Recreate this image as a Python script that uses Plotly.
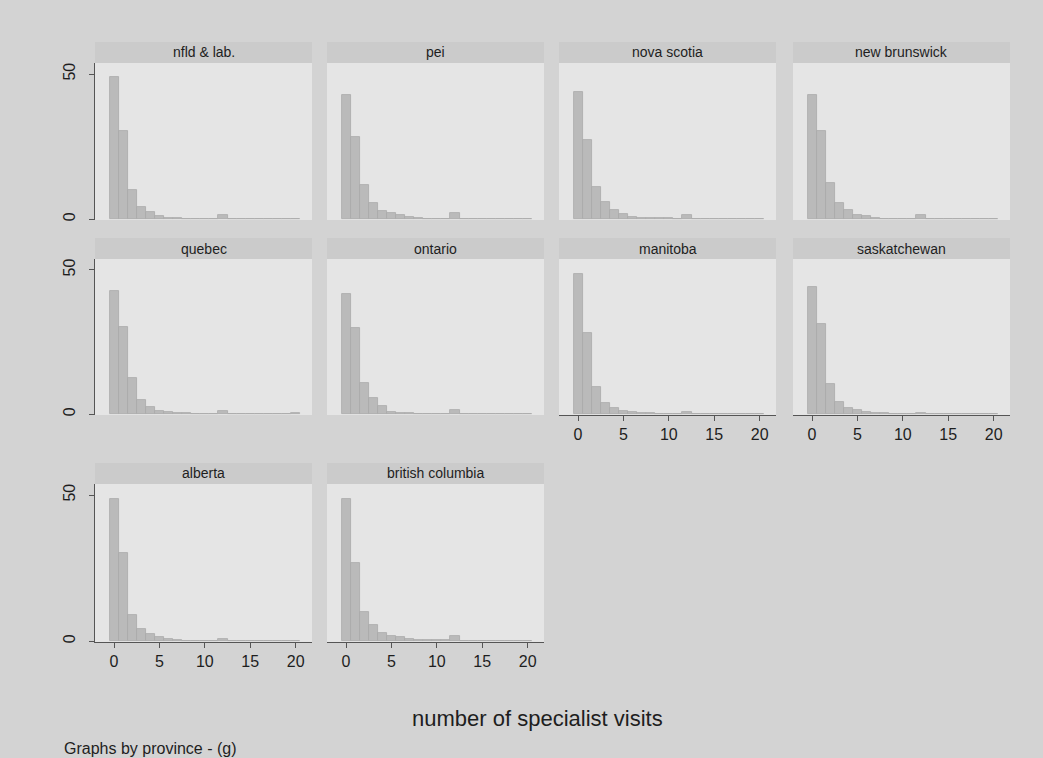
import plotly.graph_objects as go

W, H = 1043, 758

bins = list(range(0, 21))
provinces = ["nfld & lab.", "pei", "nova scotia", "new brunswick",
             "quebec", "ontario", "manitoba", "saskatchewan",
             "alberta", "british columbia"]

nfld = [48.9, 30.3, 10.0, 4.2, 2.5, 1.0, 0.5, 0.3, 0.2, 0.2, 0.2, 0.1, 1.4, 0, 0, 0, 0, 0, 0, 0, 0]
pei = [42.8, 28.2, 11.7, 5.4, 2.9, 2.2, 1.4, 0.8, 0.3, 0.2, 0.2, 0.2, 2.0, 0, 0, 0, 0, 0, 0, 0, 0]
nova_scotia = [43.9, 27.2, 11.1, 6.0, 3.3, 1.7, 0.8, 0.5, 0.4, 0.3, 0.3, 0.2, 1.4, 0, 0, 0, 0, 0, 0, 0, 0]
new_brunswick = [42.8, 30.3, 12.5, 5.4, 3.1, 1.4, 1.2, 0.3, 0.2, 0.2, 0.2, 0.1, 1.4, 0, 0, 0, 0, 0, 0, 0, 0]
quebec = [42.8, 30.3, 12.4, 4.9, 2.5, 1.2, 0.6, 0.4, 0.3, 0.2, 0.2, 0.1, 1.0, 0.1, 0.1, 0.1, 0.1, 0.1, 0.1, 0.1, 0.3]
ontario = [41.7, 29.8, 10.7, 5.5, 2.8, 0.8, 0.5, 0.3, 0.2, 0.2, 0.2, 0.2, 1.4, 0, 0, 0, 0, 0, 0, 0, 0.2]
manitoba = [48.6, 28.2, 9.5, 3.9, 2.3, 1.2, 0.8, 0.3, 0.3, 0.2, 0.2, 0.2, 0.6, 0.1, 0.1, 0, 0, 0, 0, 0.1, 0.2]
saskatchewan = [44.0, 31.3, 10.6, 4.3, 2.0, 1.5, 0.7, 0.3, 0.3, 0.2, 0.2, 0.2, 0.5, 0.1, 0.1, 0.1, 0, 0.1, 0, 0.2, 0.2]
alberta = [48.5, 30.2, 8.9, 4.3, 2.6, 1.3, 0.6, 0.3, 0.2, 0.2, 0.2, 0.2, 0.9, 0.2, 0.2, 0.2, 0.1, 0, 0, 0, 0]
british_columbia = [48.5, 26.6, 10.0, 5.5, 2.8, 1.7, 1.3, 0.8, 0.3, 0.3, 0.3, 0.3, 1.7, 0, 0, 0, 0, 0, 0, 0, 0.1]

series = [nfld, pei, nova_scotia, new_brunswick, quebec, ontario,
          manitoba, saskatchewan, alberta, british_columbia]

x_ticks = [0, 5, 10, 15, 20]
y_ticks = [0, 50]

FONT = "Liberation Sans, Arial, sans-serif"
PAPER = "#d3d3d3"
PLOT = "#e5e5e5"
STRIP = "#cbcbcb"
BAR = "#bababa"
BAR_LINE = "#a8a8a8"
AXIS = "#555555"
TEXT = "#1e1e1e"

# panel layout in pixels
cols_px = [(95, 312), (327, 544), (559, 776), (793, 1010)]
rows_px = [(63, 220), (259, 415), (484, 642)]
positions = [(0, 0), (0, 1), (0, 2), (0, 3),
             (1, 0), (1, 1), (1, 2), (1, 3),
             (2, 0), (2, 1)]
bottom_panels = {6, 7, 8, 9}

def fx(px):
    return px / W

def fy(py):
    return 1 - py / H

fig = go.Figure()
layout = dict(
    width=W, height=H, margin=dict(l=0, r=0, t=0, b=0),
    paper_bgcolor=PAPER, plot_bgcolor=PLOT, showlegend=False,
    font=dict(family=FONT, color=TEXT), bargap=0,
)
shapes = []
annotations = []

for i, (name, vals) in enumerate(zip(provinces, series)):
    r, c = positions[i]
    x0, x1 = cols_px[c]
    y0, y1 = rows_px[r]
    ax = "" if i == 0 else str(i + 1)
    fig.add_trace(go.Bar(
        x=bins, y=vals, width=1.0,
        marker=dict(color=BAR, line=dict(color=BAR_LINE, width=0.8)),
        xaxis="x" + ax, yaxis="y" + ax, hoverinfo="x+y",
    ))
    show_x = i in bottom_panels
    show_y = c == 0
    layout["xaxis" + ax] = dict(
        domain=[fx(x0), fx(x1)], anchor="y" + ax, range=[-2.1, 21.8],
        showgrid=False, zeroline=False,
        showline=show_x, linecolor=AXIS, linewidth=1,
        tickvals=x_ticks if show_x else [], ticks="outside" if show_x else "",
        ticklen=5, tickcolor=AXIS, showticklabels=show_x,
        tickfont=dict(size=16, color=TEXT, family=FONT),
    )
    layout["yaxis" + ax] = dict(
        domain=[fy(y1), fy(y0)], anchor="x" + ax, range=[-0.3, 53.8],
        showgrid=False, zeroline=False,
        showline=show_y, linecolor=AXIS, linewidth=1,
        tickvals=y_ticks if show_y else [], ticks="outside" if show_y else "",
        ticklen=5, tickcolor=AXIS, showticklabels=show_y, tickangle=-90,
        ticklabelstandoff=8,
        tickfont=dict(size=16, color=TEXT, family=FONT),
    )
    # title strip
    shapes.append(dict(type="rect", xref="paper", yref="paper",
                       x0=fx(x0), x1=fx(x1), y0=fy(y0), y1=fy(y0 - 21),
                       fillcolor=STRIP, line=dict(width=0), layer="below"))
    annotations.append(dict(text=name, xref="paper", yref="paper",
                            x=fx((x0 + x1) / 2), y=fy(y0 - 10.5),
                            xanchor="center", yanchor="middle", showarrow=False,
                            font=dict(size=14, color=TEXT, family=FONT)))

annotations.append(dict(text="number of specialist visits", xref="paper", yref="paper",
                        x=fx(537), y=fy(718), xanchor="center", yanchor="middle",
                        showarrow=False, font=dict(size=22, color=TEXT, family=FONT)))
annotations.append(dict(text="Graphs by province - (g)", xref="paper", yref="paper",
                        x=fx(62), y=fy(748), xanchor="left", yanchor="middle",
                        showarrow=False, font=dict(size=16, color=TEXT, family=FONT)))

layout["shapes"] = shapes
layout["annotations"] = annotations
fig.update_layout(**layout)
fig.write_html("out.html")
